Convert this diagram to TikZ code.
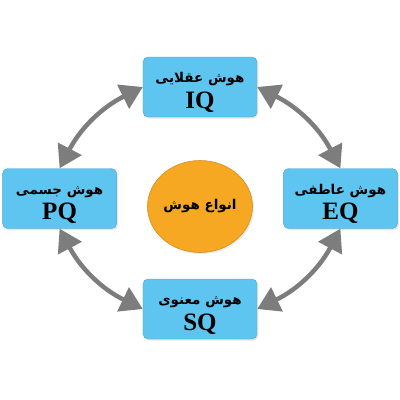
\documentclass[tikz,border=0pt]{standalone}
\usepackage{fontspec}
\setmainfont{Liberation Serif}
\newfontfamily\farsi[Script=Arabic]{DejaVu Sans}
\TeXXeTstate=1
\usetikzlibrary{matrix,arrows.meta,shapes.geometric,shadows}
\definecolor{qblue}{RGB}{93,197,240}
\definecolor{qorange}{RGB}{247,168,35}
\definecolor{qgray}{RGB}{125,125,125}
\newcommand{\fa}[1]{{\farsi\bfseries\fontsize{13.5}{16}\selectfont\beginR #1\endR}}
\newcommand{\qq}[1]{{\bfseries\fontsize{25}{27}\selectfont #1}}
\newcommand{\hoosh}[2]{\rule{0pt}{21pt}\fa{#1}\\[5pt]\qq{#2}}

\begin{document}
\begin{tikzpicture}[x=1pt,y=-1pt,
  qbox/.style={fill=qblue, draw=qblue!85!black, line width=0.4pt, rounded corners=5pt,
    minimum width=114pt, minimum height=60pt, align=center, inner sep=0pt,
    drop shadow={opacity=0.2, shadow xshift=1.5pt, shadow yshift=-1.5pt}},
  qcircle/.style={ellipse, fill=qorange, draw=qorange!85!black, line width=0.6pt,
    minimum width=105pt, minimum height=92pt, inner sep=0pt,
    drop shadow={opacity=0.15, shadow xshift=1.5pt, shadow yshift=-1.5pt}},
  qarrow/.style={qgray, line width=4.5pt,
    {Triangle[length=22pt,width=26pt]}-{Triangle[length=22pt,width=26pt]}}]
  \useasboundingbox (0,0) rectangle (400,400);
  \matrix (m) at (200,198) [row sep=43pt, column sep=26pt]
  {
 & \node[qbox] (iq) {\hoosh{هوش عقلایی}{IQ}}; & \\
\node[qbox] (pq) {\hoosh{هوش جسمی}{PQ}}; & \node[qcircle, yshift=-8pt] (types) {\fa{انواع هوش}}; & \node[qbox] (eq) {\hoosh{هوش عاطفی}{EQ}}; \\[-17pt]
 & \node[qbox] (sq) {\hoosh{هوش معنوی}{SQ}}; & \\
};
  \path[qarrow]
  (pq.north) edge[bend left=18] (iq.west)
  (iq.east) edge[bend left=18] (eq.north)
  (eq.south) edge[bend left=18] (sq.east)
  (sq.west) edge[bend left=18] (pq.south);
\end{tikzpicture}
\end{document}
